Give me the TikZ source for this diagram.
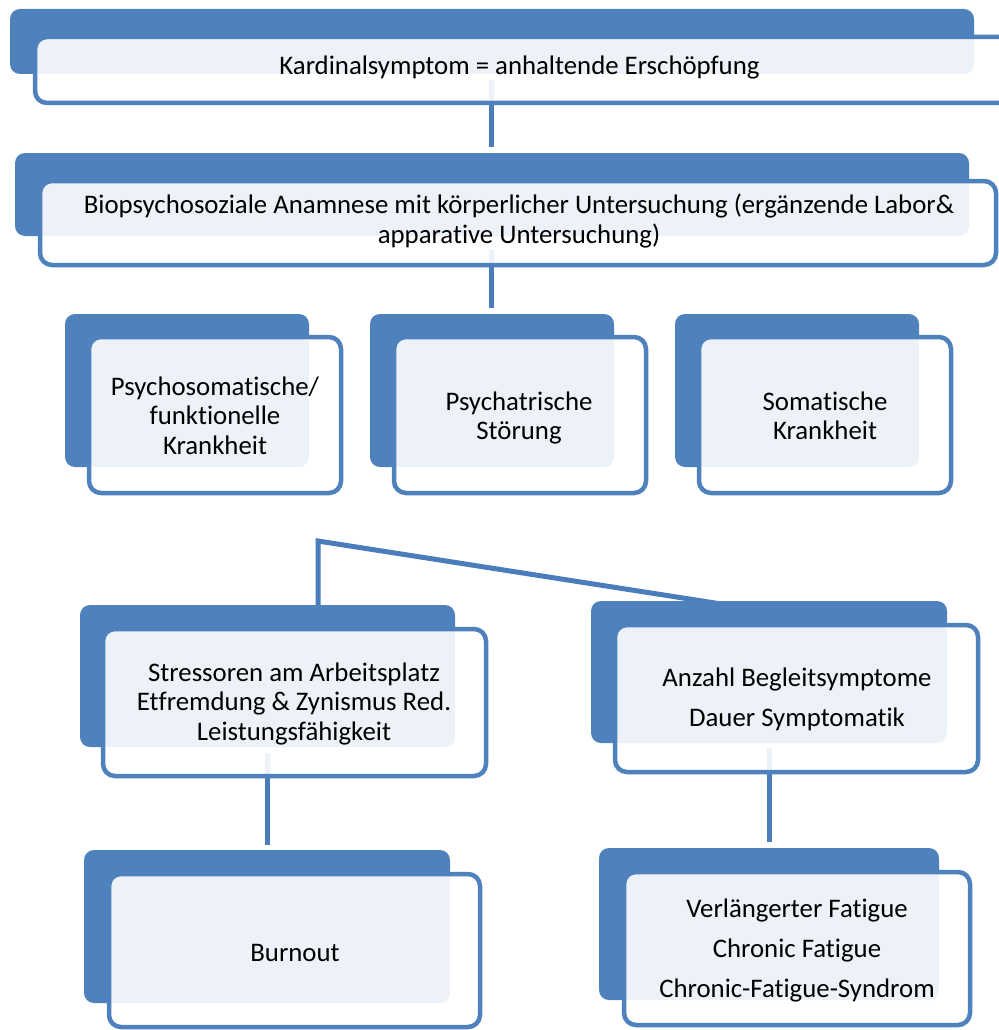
\documentclass[tikz,border=0pt]{standalone}
\usepackage{fontspec}
\setmainfont{Carlito}[RawFeature=-liga]
\usetikzlibrary{fit}
\definecolor{accent}{HTML}{4F81BD}
\definecolor{linkc}{HTML}{4A7DBA}
\pgfdeclarelayer{bg}
\pgfsetlayers{bg,main}
\tikzset{
  backbox/.style={fill=accent, draw=none, rounded corners=10pt, inner sep=0pt, outer sep=0pt},
  frontbox/.style={fill=white, fill opacity=0.9, draw=accent, draw opacity=1, line width=4.5pt, rounded corners=12pt, inner sep=0pt, outer sep=0pt},
  txt/.style={anchor=base, inner sep=0pt, text=black, font=\fontsize{26.8}{29.5}\selectfont},
  txtwide/.style={anchor=base, inner sep=0pt, text=black, font=\fontsize{26.8}{40}\selectfont},
  link/.style={draw=linkc, line width=5pt}
}
\newcommand{\lines}[1]{\begin{tabular}[t]{@{}c@{}}#1\end{tabular}}
\renewcommand{\arraystretch}{1}
\begin{document}
\begin{tikzpicture}[x=1pt,y=-1pt]
\useasboundingbox (0,0) rectangle (998,1030);
% level 1
\node[backbox, fit={(10,9) (974,74)}] (b1) {};
\node[frontbox, fit={(35,37) (1015,103)}] (f1) {};
\node[txt] (t1) at (519.5,75) {Kardinalsymptom = anhaltende Erschöpfung};
% level 2
\node[backbox, fit={(15,153) (969,236)}] (b2) {};
\node[frontbox, fit={(40,181) (996,265)}] (f2) {};
\node[txt, font=\fontsize{26.8}{30}\selectfont] (t2) at (519,213) {\lines{Biopsychosoziale Anamnese mit körperlicher Untersuchung (ergänzende Labor\&\\ apparative Untersuchung)}};
% level 3
\node[backbox, fit={(65,314) (309,467)}] (b3) {};
\node[frontbox, fit={(89,337) (341,493)}] (f3) {};
\node[txt] (t3) at (215,395) {\lines{Psychosomatische/\\ funktionelle\\ Krankheit}};
\node[backbox, fit={(370,314) (614,467)}] (b4) {};
\node[frontbox, fit={(394,337) (646,493)}] (f4) {};
\node[txt] (t4) at (519,410) {\lines{Psychatrische\\ Störung}};
\node[backbox, fit={(675,314) (919,467)}] (b5) {};
\node[frontbox, fit={(699,337) (951,493)}] (f5) {};
\node[txt] (t5) at (825,410) {\lines{Somatische\\ Krankheit}};
% level 4
\node[backbox, fit={(80,605) (455,747)}] (b6) {};
\node[frontbox, fit={(103,629) (486,776)}] (f6) {};
\node[txt] (t6) at (294,681) {\lines{Stressoren am Arbeitsplatz\\ Etfremdung \& Zynismus Red.\\ Leistungsfähigkeit}};
\node[backbox, fit={(591,601) (947,743)}] (b7) {};
\node[frontbox, fit={(615,625) (978,772)}] (f7) {};
\node[txtwide] (t7) at (797,686) {\lines{Anzahl Begleitsymptome\\ Dauer Symptomatik}};
% level 5
\node[backbox, fit={(84,850) (450,1003)}] (b8) {};
\node[frontbox, fit={(109,874) (480,1027)}] (f8) {};
\node[txt] (t8) at (295,961) {Burnout};
\node[backbox, fit={(599,848) (939,1000)}] (b9) {};
\node[frontbox, fit={(624,872) (970,1025)}] (f9) {};
\node[txtwide] (t9) at (797,917) {\lines{Verlängerter Fatigue\\ Chronic Fatigue\\ Chronic-Fatigue-Syndrom}};
% connector points
\coordinate (c1) at (491.5,80);
\coordinate (c2) at (491.5,147);
\coordinate (c3) at (491.5,250);
\coordinate (c4) at (491.5,308);
\coordinate (k) at (318,541);
\coordinate (c5) at (318,622);
\coordinate (c6) at (843,623);
\coordinate (c7) at (267,753);
\coordinate (c8) at (267,845);
\coordinate (c9) at (769,748);
\coordinate (c10) at (769,842);
\begin{pgfonlayer}{bg}
\fill[white] (0,0) rectangle (998,1030);
\draw[link] (c1) -- (c2);
\draw[link] (c3) -- (c4);
\draw[link, line join=miter] (c5) -- (k) -- (c6);
\draw[link] (c7) -- (c8);
\draw[link] (c9) -- (c10);
\end{pgfonlayer}
\end{tikzpicture}
\end{document}
